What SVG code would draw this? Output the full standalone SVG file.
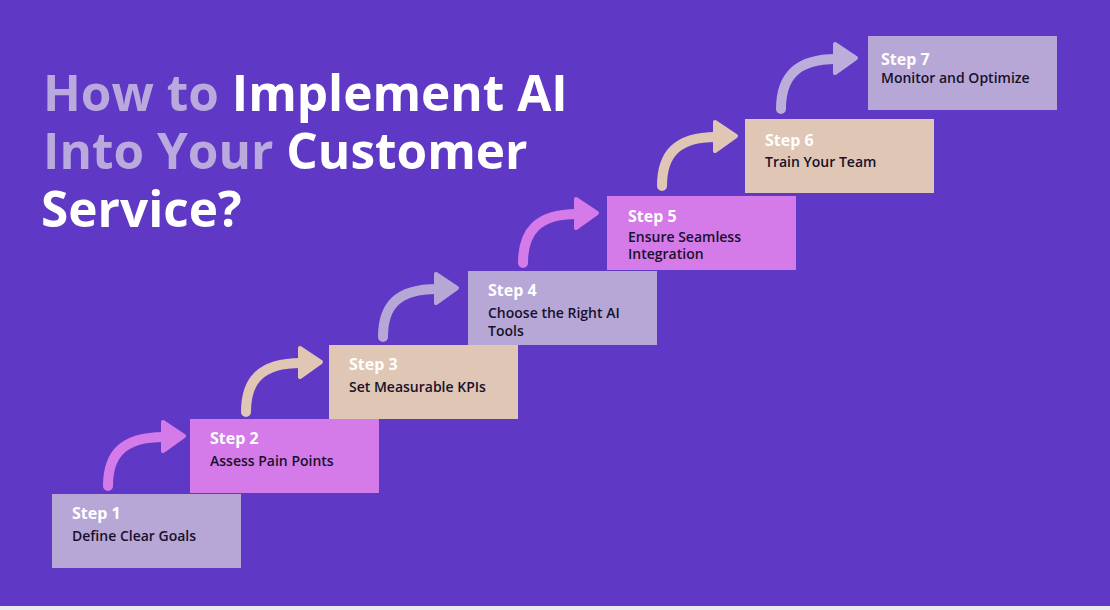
<svg xmlns="http://www.w3.org/2000/svg" width="1110" height="610" viewBox="0 0 1110 610">
<defs>
<style>
.title{font-family:"Open Sans","Liberation Sans",sans-serif;font-weight:700;font-size:49.5px;fill:#ffffff}
.dim{fill:#b9a9dc}
.step{font-family:"Open Sans","Liberation Sans",sans-serif;font-weight:700;font-size:16px;fill:#ffffff}
.desc{font-family:"Open Sans","Liberation Sans",sans-serif;font-weight:600;font-size:14px;fill:#17112a}
.lav{fill:#b7a7d6}
.pink{fill:#d47ae9}
.beige{fill:#e0c6b5}
.arr{fill:none;stroke-width:10;stroke-linecap:round}
.head{stroke-width:4;stroke-linejoin:round}
</style>
</defs>
<rect x="0" y="0" width="1110" height="610" fill="#e9ebf0"/>
<rect x="0" y="0" width="1110" height="606" fill="#5f38c5"/>
<g id="title">
<text class="title" x="43" y="111"><tspan class="dim">How to </tspan>Implement AI</text>
<text class="title" x="43" y="169"><tspan class="dim">Into Your </tspan>Customer</text>
<text class="title" x="41" y="227">Service?</text>
</g>
<g id="connectors">
<path class="arr" stroke="#d47ae9" d="M108,486 C108,455 122,437 164,437"/>
<polygon class="head pink" stroke="#d47ae9" points="163,422 184,436 163,451"/>
<path class="arr" stroke="#e0c6b5" d="M246,412 C246,381 260,363 301,363"/>
<polygon class="head beige" stroke="#e0c6b5" points="300,348 321,362 300,377"/>
<path class="arr" stroke="#b7a7d6" d="M383,337 C383,306 397,289 437,289"/>
<polygon class="head lav" stroke="#b7a7d6" points="436,274 457,288 436,303"/>
<path class="arr" stroke="#d47ae9" d="M523,263 C523,232 537,214 577,214"/>
<polygon class="head pink" stroke="#d47ae9" points="576,199 597,213 576,228"/>
<path class="arr" stroke="#e0c6b5" d="M662,186 C662,155 676,137 716,137"/>
<polygon class="head beige" stroke="#e0c6b5" points="715,122 736,136 715,151"/>
<path class="arr" stroke="#bcaedb" d="M781,109 C781,78 795,59 836,59"/>
<polygon class="head" fill="#bcaedb" stroke="#bcaedb" points="835,44 856,58 835,73"/>
</g>
<g id="step1">
<rect class="lav" x="52" y="494" width="189" height="74"/>
<text class="step" x="72" y="519">Step 1</text>
<text class="desc" x="72" y="541">Define Clear Goals</text>
</g>
<g id="step2">
<rect class="pink" x="190" y="419" width="189" height="74"/>
<text class="step" x="210" y="444">Step 2</text>
<text class="desc" x="210" y="466">Assess Pain Points</text>
</g>
<g id="step3">
<rect class="beige" x="329" y="345" width="189" height="74"/>
<text class="step" x="349" y="370">Step 3</text>
<text class="desc" x="349" y="392">Set Measurable KPIs</text>
</g>
<g id="step4">
<rect class="lav" x="468" y="271" width="189" height="74"/>
<text class="step" x="488" y="296">Step 4</text>
<text class="desc" x="488" y="318">Choose the Right AI</text>
<text class="desc" x="488" y="336">Tools</text>
</g>
<g id="step5">
<rect class="pink" x="607" y="196" width="189" height="74"/>
<text class="step" x="628" y="222">Step 5</text>
<text class="desc" x="628" y="242">Ensure Seamless</text>
<text class="desc" x="628" y="259">Integration</text>
</g>
<g id="step6">
<rect class="beige" x="745" y="119" width="189" height="74"/>
<text class="step" x="765" y="146">Step 6</text>
<text class="desc" x="765" y="167">Train Your Team</text>
</g>
<g id="step7">
<rect class="lav" x="868" y="36" width="189" height="74"/>
<text class="step" x="881" y="65">Step 7</text>
<text class="desc" x="881" y="83">Monitor and Optimize</text>
</g>
</svg>
